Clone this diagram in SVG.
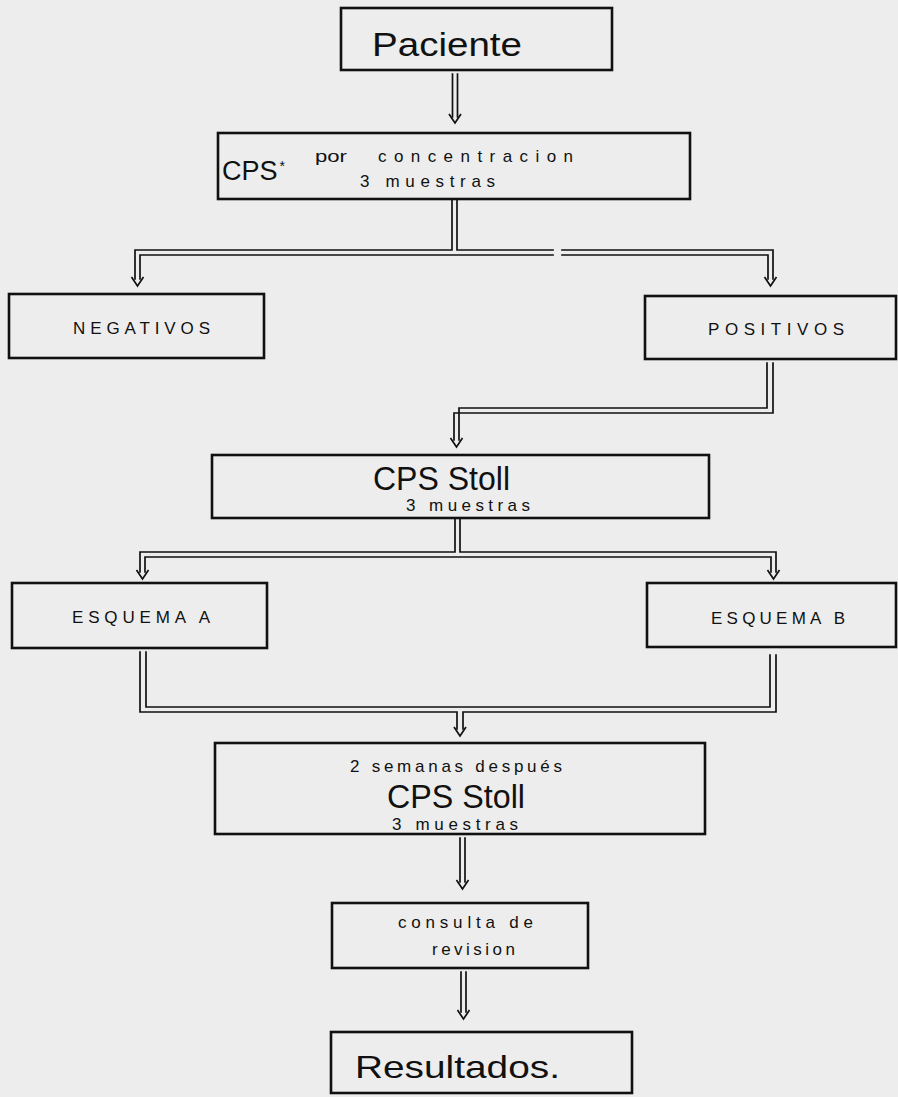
<svg xmlns="http://www.w3.org/2000/svg" xmlns:xlink="http://www.w3.org/1999/xlink" width="898" height="1097" viewBox="0 0 898 1097">
<style>
.box{fill:none;stroke:#111;stroke-width:2.6}
.ln{fill:none;stroke:#111;stroke-width:1.7;stroke-linecap:square}
.ah{fill:none;stroke:#111;stroke-width:1.7;stroke-linejoin:miter}
text{font-family:"Liberation Sans","DejaVu Sans",sans-serif;fill:#111}
.big{font-size:34px}
.sm{font-size:17px}
.caps{font-size:17px}
</style>
<defs>
<path id="ah" d="M-6,-9 L0,0 L6,-9"/>
</defs>
<rect x="0" y="0" width="898" height="1097" fill="#ededed"/>

<g id="paciente">
<rect class="box" x="341" y="8" width="271" height="62"/>
<text class="big" x="372" y="56" textLength="150" lengthAdjust="spacingAndGlyphs">Paciente</text>
</g>

<g id="cps-concentracion">
<rect class="box" x="218" y="133" width="472" height="66"/>
<text x="222" y="180" font-size="27">CPS<tspan font-size="14" dy="-9" dx="2">*</tspan></text>
<text class="sm" x="315" y="162" textLength="32" lengthAdjust="spacingAndGlyphs">por</text>
<text class="sm" x="378" y="162" textLength="195" lengthAdjust="spacing">concentracion</text>
<text class="sm" x="360" y="187" textLength="135" lengthAdjust="spacing">3 muestras</text>
</g>

<g id="negativos">
<rect class="box" x="9" y="294" width="255" height="64"/>
<text class="caps" x="73" y="334" textLength="137" lengthAdjust="spacing">NEGATIVOS</text>
</g>

<g id="positivos">
<rect class="box" x="645" y="296" width="251" height="63"/>
<text class="caps" x="708" y="335" textLength="136" lengthAdjust="spacing">POSITIVOS</text>
</g>

<g id="cps-stoll-1">
<rect class="box" x="212" y="455" width="497" height="63"/>
<text class="big" x="373" y="490" font-size="35" textLength="137" lengthAdjust="spacingAndGlyphs">CPS Stoll</text>
<text class="sm" x="406" y="511" textLength="124" lengthAdjust="spacing">3 muestras</text>
</g>

<g id="esquema-a">
<rect class="box" x="12" y="583" width="255" height="65"/>
<text class="caps" x="72" y="623" textLength="138" lengthAdjust="spacing">ESQUEMA A</text>
</g>

<g id="esquema-b">
<rect class="box" x="647" y="583" width="249" height="64"/>
<text class="caps" x="711" y="624" textLength="134" lengthAdjust="spacing">ESQUEMA B</text>
</g>

<g id="cps-stoll-2">
<rect class="box" x="215" y="743" width="490" height="91"/>
<text class="sm" x="350" y="772" textLength="212" lengthAdjust="spacing">2 semanas después</text>
<text class="big" x="387" y="808" textLength="138" lengthAdjust="spacingAndGlyphs">CPS Stoll</text>
<text class="sm" x="392" y="830" textLength="126" lengthAdjust="spacing">3 muestras</text>
</g>

<g id="consulta">
<rect class="box" x="332" y="903" width="256" height="65"/>
<text class="sm" x="398" y="928" textLength="135" lengthAdjust="spacing">consulta de</text>
<text class="sm" x="432" y="955" textLength="83" lengthAdjust="spacing">revision</text>
</g>

<g id="resultados">
<rect class="box" x="331" y="1032" width="301" height="61"/>
<text x="355" y="1078" font-size="32" textLength="205" lengthAdjust="spacingAndGlyphs">Resultados.</text>
</g>

<g id="connectors">
<path class="ln" d="M452.5,74 V117 M457.5,74 V117"/>
<use href="#ah" class="ah" x="455" y="123"/>

<path class="ln" d="M452,199 V250 H135 V279 M457,199 V250 H553 M562,250 H773 V279 M140,279 V255 H553 M562,255 H768 V279"/>
<use href="#ah" class="ah" x="137.5" y="286"/>
<use href="#ah" class="ah" x="770.5" y="286"/>

<path class="ln" d="M773,363 V413 H454 V440 M767,363 V408 H459 V440"/>
<use href="#ah" class="ah" x="456.5" y="447"/>

<path class="ln" d="M455,518 V552 H140 V572 M460,518 V552 H776 V572 M145,572 V557 H771 V572"/>
<use href="#ah" class="ah" x="142.5" y="579"/>
<use href="#ah" class="ah" x="773.5" y="579"/>

<path class="ln" d="M140,652 V712 H457 V729 M146,652 V707 H770 V655 M776,655 V712 H463 V729"/>
<use href="#ah" class="ah" x="460" y="736"/>

<path class="ln" d="M460,838 V882 M465,838 V882"/>
<use href="#ah" class="ah" x="462.5" y="889"/>

<path class="ln" d="M461,972 V1012 M466,972 V1012"/>
<use href="#ah" class="ah" x="463.5" y="1019"/>
</g>
</svg>
